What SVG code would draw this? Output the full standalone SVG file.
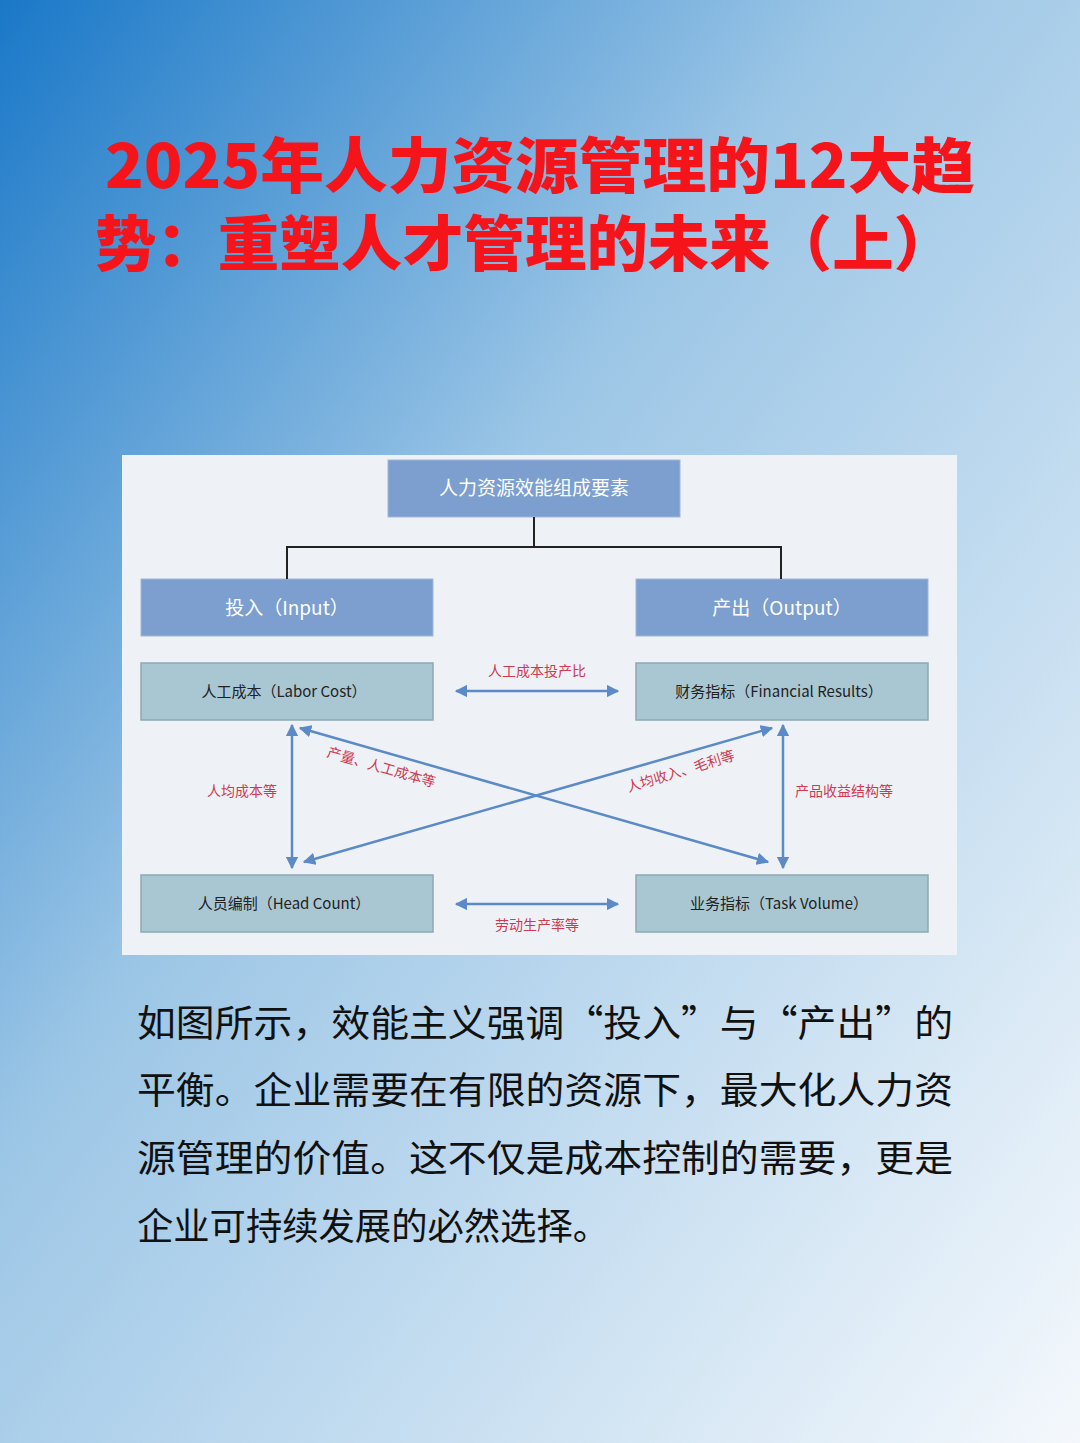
<svg xmlns="http://www.w3.org/2000/svg" width="1080" height="1443" viewBox="0 0 1080 1443">
<defs>
<linearGradient id="bg" x1="0" y1="0" x2="1" y2="1">
<stop offset="0" stop-color="#1a78c8"/>
<stop offset="0.4" stop-color="#9cc6e6"/>
<stop offset="1" stop-color="#f4f8fc"/>
</linearGradient>
<marker id="ah" viewBox="0 0 10 10" refX="9" refY="5" markerWidth="5" markerHeight="5" orient="auto-start-reverse">
<path d="M0,0 L10,5 L0,10 z" fill="#5b8ac6"/>
</marker>
<style>
.t{font-family:"Noto Sans CJK SC",sans-serif;font-weight:900;font-size:60px;fill:#f5141a}
.body{font-family:"Noto Sans CJK SC",sans-serif;font-size:37px;fill:#111}
.hd{fill:#7c9fcf;stroke:#9fb6d8}
.bx{fill:#a9c6d3;stroke:#8fa8b4;stroke-width:1.5}
.w{font-family:"Noto Sans CJK SC",sans-serif;font-size:19px;fill:#fff;text-anchor:middle}
.k{font-family:"Noto Sans CJK SC",sans-serif;font-size:15px;fill:#222;text-anchor:middle}
.r{font-family:"Noto Sans CJK SC",sans-serif;font-size:14px;fill:#d0394f;text-anchor:middle}
.ar{stroke:#5b8ac6;stroke-width:2.5;fill:none;marker-start:url(#ah);marker-end:url(#ah)}
</style>
</defs>
<rect width="1080" height="1443" fill="url(#bg)"/>
<text class="t" x="105" y="188" textLength="870" lengthAdjust="spacingAndGlyphs">2025年人力资源管理的12大趋</text>
<text class="t" x="95" y="266" textLength="860" lengthAdjust="spacingAndGlyphs">势：重塑人才管理的未来（上）</text>
<rect x="122" y="455" width="835" height="500" fill="#eef2f7"/>
<g id="root"><rect class="hd" x="388" y="460" width="292" height="57"/><text class="w" x="534" y="495">人力资源效能组成要素</text></g>
<g id="input"><rect class="hd" x="141" y="579" width="292" height="57"/><text class="w" x="287" y="615">投入（Input）</text></g>
<g id="output"><rect class="hd" x="636" y="579" width="292" height="57"/><text class="w" x="782" y="615">产出（Output）</text></g>
<g id="labor"><rect class="bx" x="141" y="663" width="292" height="57"/><text class="k" x="284" y="697">人工成本（Labor Cost）</text></g>
<g id="fin"><rect class="bx" x="636" y="663" width="292" height="57"/><text class="k" x="779" y="697">财务指标（Financial Results）</text></g>
<g id="head"><rect class="bx" x="141" y="875" width="292" height="57"/><text class="k" x="284" y="909">人员编制（Head Count）</text></g>
<g id="task"><rect class="bx" x="636" y="875" width="292" height="57"/><text class="k" x="779" y="909">业务指标（Task Volume）</text></g>
<g id="connectors">
<path d="M534,517 V547 M287,579 V547 H781 V579" stroke="#222" stroke-width="2" fill="none"/>
<line class="ar" x1="456" y1="691" x2="618" y2="691"/>
<line class="ar" x1="456" y1="904" x2="618" y2="904"/>
<line class="ar" x1="292" y1="725" x2="292" y2="868"/>
<line class="ar" x1="783" y1="725" x2="783" y2="868"/>
<line class="ar" x1="300" y1="728" x2="768" y2="862"/>
<line class="ar" x1="772" y1="728" x2="304" y2="862"/>
<text class="r" x="537" y="676">人工成本投产比</text>
<text class="r" x="537" y="930">劳动生产率等</text>
<text class="r" x="242" y="796">人均成本等</text>
<text class="r" x="844" y="796">产品收益结构等</text>
<text class="r" x="380" y="772" transform="rotate(16 380 772)">产量、人工成本等</text>
<text class="r" x="682" y="776" transform="rotate(-17 682 776)">人均收入、毛利等</text>
</g>
<text class="body" x="137" y="1037" textLength="816" lengthAdjust="spacingAndGlyphs">如图所示，效能主义强调“投入”与“产出”的</text>
<text class="body" x="137" y="1104" textLength="816" lengthAdjust="spacingAndGlyphs">平衡。企业需要在有限的资源下，最大化人力资</text>
<text class="body" x="137" y="1172" textLength="816" lengthAdjust="spacingAndGlyphs">源管理的价值。这不仅是成本控制的需要，更是</text>
<text class="body" x="137" y="1240" textLength="472" lengthAdjust="spacingAndGlyphs">企业可持续发展的必然选择。</text>
</svg>
